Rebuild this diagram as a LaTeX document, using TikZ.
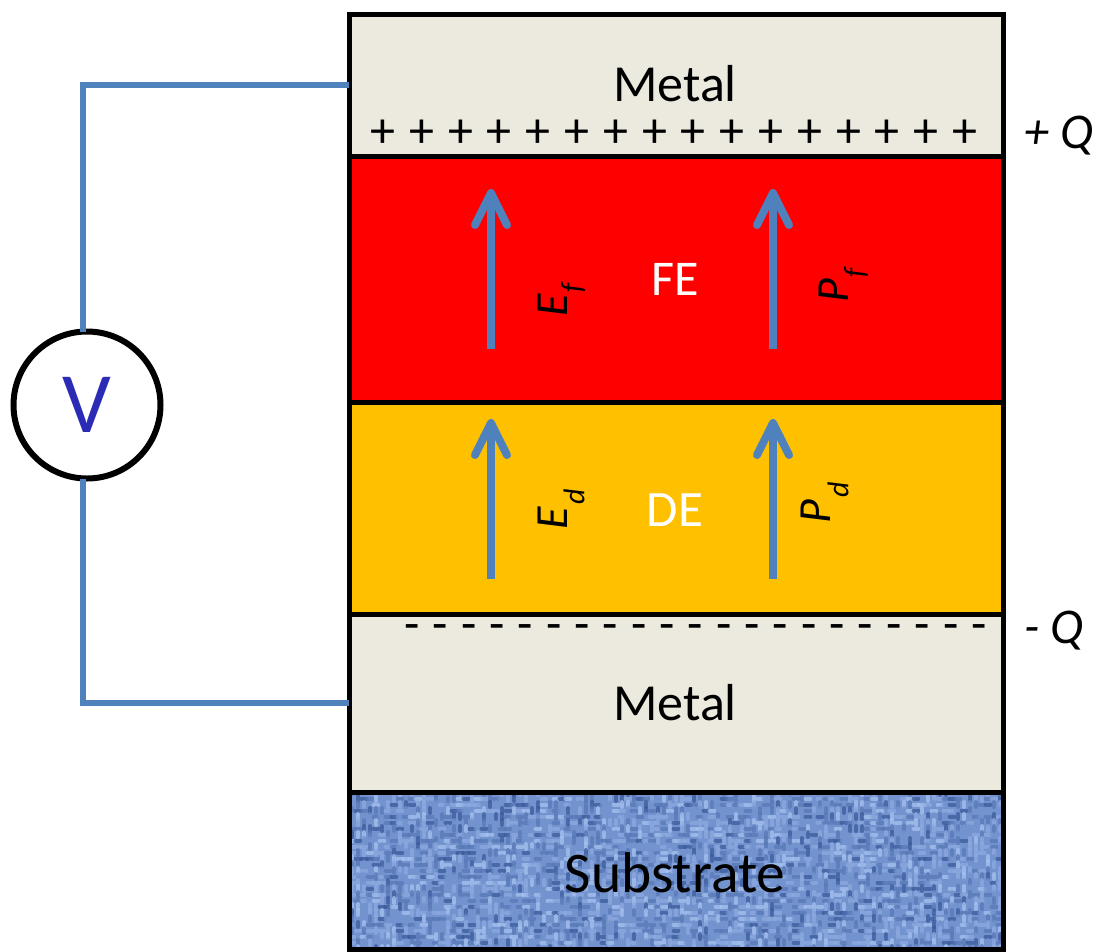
\documentclass[tikz,border=0pt]{standalone}
\usepackage{fontspec}
\setmainfont{Carlito}
\usetikzlibrary{arrows.meta,calc}
\definecolor{metalc}{HTML}{ECE9DF}
\definecolor{wire}{HTML}{4F81BD}
\definecolor{dec}{HTML}{FFC000}
\definecolor{vblue}{HTML}{2B2BB5}
\definecolor{wa}{HTML}{3A5A9A}
\definecolor{wb}{HTML}{5878B6}
\definecolor{wc}{HTML}{7393CF}
\definecolor{wd}{HTML}{8DABE0}
\definecolor{we}{HTML}{A6C2F0}
\newcommand{\fsz}[1]{\fontsize{#1}{#1}\selectfont}
\newcommand{\weave}{%
  \pgfmathsetseed{4242}%
  \fill[wc] (-340,-90) rectangle (340,90);
  \foreach \i in {-55,...,55}{\foreach \j in {-14,...,14}{%
    \pgfmathrandominteger{\cc}{0}{7}%
    \pgfmathrandominteger{\dd}{0}{1}%
    \pgfmathsetmacro{\xx}{\i*6}\pgfmathsetmacro{\yy}{\j*6}%
    \ifcase\cc\def\tone{wa}\or\def\tone{wb}\or\def\tone{wb}\or\def\tone{wc}\or\def\tone{wc}\or\def\tone{wd}\or\def\tone{wd}\else\def\tone{we}\fi
    \ifnum\dd=0
      \draw[\tone,opacity=.75,line width=4pt,line cap=round] (\xx-2.5,\yy) -- (\xx+2.5,\yy);
    \else
      \draw[\tone,opacity=.75,line width=4pt,line cap=round] (\xx,\yy-2.5) -- (\xx,\yy+2.5);
    \fi
  }}%
}
\tikzset{
  x=1pt,y=-1pt,
  layer/.style={draw=black,line width=5pt,inner sep=0pt,outer sep=0pt,minimum width=654pt},
  field/.style={draw=wire,line width=8pt,-{Straight Barb[round,length=32pt,width=32pt,line width=8pt]}},
  conn/.style={draw=wire,line width=5.5pt},
  sym/.style={rotate=90,inner sep=0pt,font=\fsz{46}\itshape},
  chg/.style={inner sep=0pt,anchor=base,font=\fsz{50}},
  qlab/.style={inner sep=0pt,anchor=base west,font=\fsz{50}\itshape},
  subs/.style={inner sep=0pt,rotate=90,font=\fsz{30}\itshape},
}
\begin{document}
\begin{tikzpicture}
\useasboundingbox (0,0) rectangle (1099,951);
\node[layer,fill=metalc,minimum height=142pt] (mt) at (676,85) {};
\node[layer,fill=red,minimum height=246pt] (fe) at (676,279) {};
\node[layer,fill=dec,minimum height=212pt] (de) at (676,508) {};
\node[layer,fill=metalc,minimum height=178pt] (mb) at (676,703) {};
\node[layer,minimum height=157pt,path picture={\weave}] (su) at (676,870.5) {};
\node[inner sep=0pt,anchor=base,font=\fsz{52}] (tm1) at (675,101) {Metal};
\node[inner sep=0pt,anchor=base,font=\fsz{52}] (tm2) at (675,720) {Metal};
\node[inner sep=0pt,anchor=base,font=\fsz{50},text=white] (tfe) at (675,295) {FE};
\node[inner sep=0pt,anchor=base,font=\fsz{51},text=white] (tde) at (675,526) {DE};
\node[inner sep=0pt,anchor=base,font=\fsz{57.5}] (tsu) at (675,892) {Substrate};
\foreach \k in {0,...,15}{\node[chg] (p\k) at ({383+\k*38.8},147) {+};}
\foreach \k in {0,...,20}{\node[chg] (m\k) at ({412+\k*28.35},640) {-};}
\node[qlab] (qp) at (1024,148) {+ Q};
\node[qlab] (qm) at (1024,643) {- Q};
\coordinate (a1) at (491,349); \coordinate (a1t) at (491,189);
\coordinate (a2) at (773,349); \coordinate (a2t) at (773,189);
\coordinate (a3) at (491,579); \coordinate (a3t) at (491,419);
\coordinate (a4) at (773,579); \coordinate (a4t) at (773,419);
\draw[field] (a1) -- (a1t);
\draw[field] (a2) -- (a2t);
\draw[field] (a3) -- (a3t);
\draw[field] (a4) -- (a4t);
\node[sym] (ef) at (553,305) {E};
\node[subs] (ef2) at (573,288) {f};
\node[sym] (pf) at (834,291) {P};
\node[subs] (pf2) at (856,273) {f};
\node[sym] (ed) at (553,518) {E};
\node[subs] (ed2) at (574,497) {d};
\node[sym] (pd) at (816,512) {P};
\node[subs] (pd2) at (838,490) {d};
\node[circle,draw=black,fill=white,line width=6pt,minimum size=147pt,inner sep=0pt,outer sep=0pt,text=vblue,font=\fsz{86}] (v) at (87,405) {V};
\draw[conn] (mt.west) -| ($(v.north)+(-4,0)$);
\draw[conn] (mb.west) -| ($(v.south)+(-4,0)$);
\end{tikzpicture}
\end{document}
